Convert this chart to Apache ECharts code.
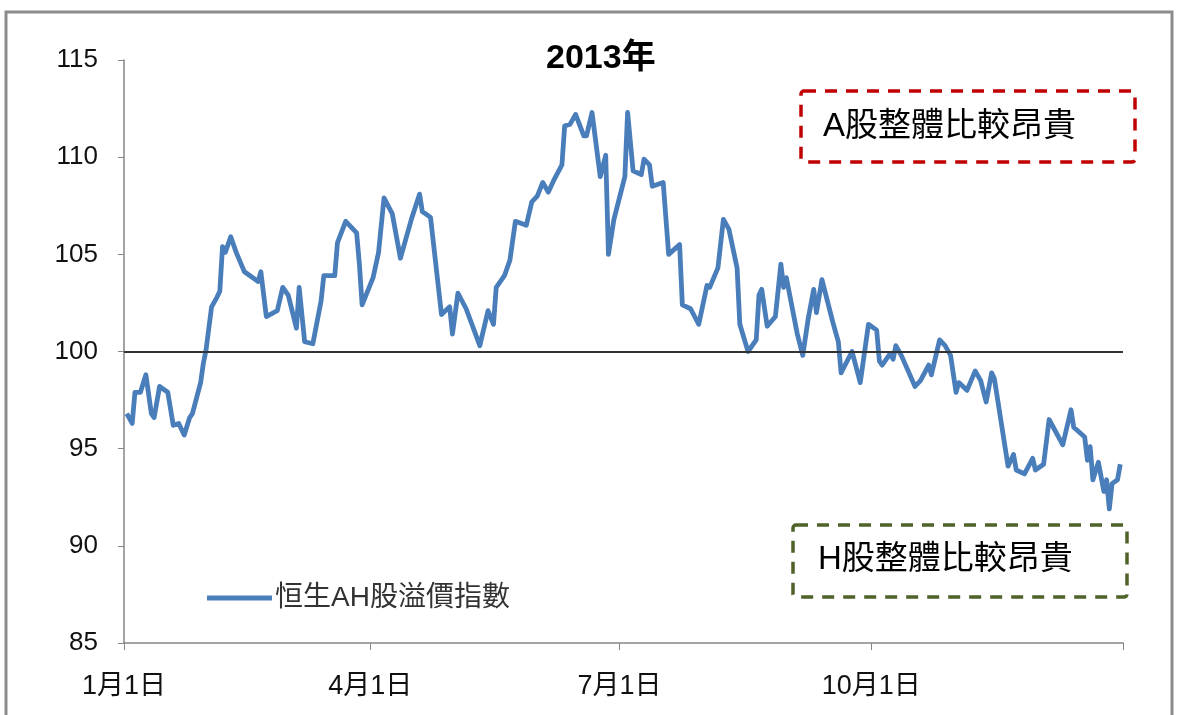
<!DOCTYPE html>
<html>
<head>
<meta charset="utf-8">
<script src="https://cdn.jsdelivr.net/npm/echarts@6/dist/echarts.min.js"></script>
<style>
  html, body { margin: 0; padding: 0; background: #fff; }
  #chart { width: 1180px; height: 715px; }
</style>
</head>
<body>
<div id="chart"></div>
<script>
// day of year 2013 (0 = 1月1日) and index level
var days = [1, 3, 4, 6, 8, 10, 11, 13, 16, 18, 20, 22, 24, 25, 28, 29, 30, 32, 34, 35,
  36, 37, 39, 41, 44, 49, 50, 52, 56, 58, 60, 63, 64, 66, 69, 72, 73, 77, 78, 81,
  85, 86, 87, 91, 93, 95, 98, 101, 105, 108, 109, 112, 116, 119, 120, 122, 125, 130, 133, 135,
  136, 139, 141, 143, 147, 149, 151, 153, 155, 157, 160, 161, 163, 165, 168, 169, 171, 172, 174, 176,
  177, 179, 183, 184, 186, 189, 190, 192, 193, 197, 199, 203, 204, 207, 210, 213, 214, 217, 219, 221,
  224, 225, 228, 231, 232, 233, 235, 238, 240, 241, 242, 246, 248, 250, 252, 253, 255, 259, 261, 262,
  266, 269, 272, 275, 276, 277, 280, 281, 282, 284, 289, 291, 294, 295, 298, 300, 302, 304, 305, 308,
  311, 313, 315, 317, 318, 323, 325, 326, 329, 332, 333, 336, 338, 343, 346, 347, 351, 352, 353, 354,
  356, 358, 359, 360, 361, 363, 364];
var ahIndex = [96.8, 96.3, 97.9, 97.9, 98.8, 96.8, 96.6, 98.2, 97.9, 96.2, 96.3, 95.7, 96.6, 96.8, 98.4, 99.4, 100.1, 102.3, 102.8, 103.1,
  105.4, 105.1, 105.9, 105.1, 104.1, 103.6, 104.1, 101.8, 102.1, 103.3, 102.9, 101.2, 103.3, 100.5, 100.4, 102.6, 103.9, 103.9, 105.6, 106.7,
  106.1, 104.5, 102.4, 103.8, 105.1, 107.9, 107.1, 104.8, 106.8, 108.1, 107.2, 106.9, 101.9, 102.3, 100.9, 103.0, 102.2, 100.3, 102.1, 101.4,
  103.3, 103.9, 104.7, 106.7, 106.5, 107.7, 108.0, 108.7, 108.2, 108.8, 109.6, 111.6, 111.7, 112.2, 111.1, 111.1, 112.3, 111.2, 109.0, 110.1,
  105.0, 106.8, 109.0, 112.3, 109.3, 109.1, 109.9, 109.6, 108.5, 108.7, 105.0, 105.5, 102.4, 102.2, 101.4, 103.4, 103.3, 104.3, 106.8, 106.3,
  104.3, 101.4, 100.0, 100.6, 102.9, 103.2, 101.3, 101.8, 104.5, 103.3, 103.8, 100.9, 99.8, 101.7, 103.2, 102.0, 103.7, 101.5, 100.5, 98.9,
  100.0, 98.4, 101.4, 101.1, 99.5, 99.3, 99.9, 99.6, 100.3, 99.8, 98.2, 98.5, 99.3, 98.8, 100.6, 100.3, 99.8, 97.9, 98.4, 98.0,
  99.0, 98.5, 97.4, 98.9, 98.6, 94.1, 94.7, 93.9, 93.7, 94.5, 93.9, 94.2, 96.5, 95.2, 97.0, 96.1, 95.6, 94.4, 95.1, 93.4,
  94.3, 92.8, 93.4, 91.9, 93.2, 93.4, 94.2];

var tickDays = [0, 90, 181, 273, 365];
var tickNames = ['1月1日', '4月1日', '7月1日', '10月1日', ''];
var baseLine = 100;
var seriesName = '恒生AH股溢價指數';
var titleText = '2013年';
var noteA = 'A股整體比較昂貴';
var noteH = 'H股整體比較昂貴';

var font = 'Liberation Sans, Noto Sans CJK TC, sans-serif';
var chart = echarts.init(document.getElementById('chart'));

var option = {
    backgroundColor: '#fff',
    animation: false,
    title: {
        text: titleText,
        left: 546,
        top: 42,
        padding: 0,
        textStyle: { fontSize: 34, fontWeight: 'bold', color: '#000', fontFamily: font }
    },
    grid: { left: 124, right: 57, top: 60, bottom: 72 },
    legend: {
        left: 202,
        top: 579,
        itemWidth: 65,
        itemHeight: 14,
        icon: 'path://M0,5 L66,5 L66,10 L0,10 Z',
        data: [seriesName],
        textStyle: { fontSize: 28, color: '#333', fontFamily: font, padding: [0, 0, 0, -2] }
    },
    xAxis: {
        type: 'value',
        min: 0,
        max: 365,
        axisLine: { lineStyle: { color: '#868686', width: 1.5 } },
        axisTick: { show: true, length: 7, customValues: tickDays, lineStyle: { color: '#868686' } },
        axisLabel: {
            customValues: tickDays.slice(0, 4),
            margin: 30,
            fontSize: 27,
            color: '#111',
            fontFamily: font,
            formatter: function (v) {
                var i = tickDays.indexOf(v);
                return i >= 0 ? tickNames[i] : '';
            }
        },
        splitLine: { show: false }
    },
    yAxis: {
        type: 'value',
        min: 85,
        max: 115,
        interval: 5,
        axisLine: { show: true, lineStyle: { color: '#868686', width: 1.5 } },
        axisTick: { show: true, length: 6, lineStyle: { color: '#868686' } },
        axisLabel: { margin: 26, fontSize: 26, color: '#111', fontFamily: font },
        splitLine: { show: false }
    },
    series: [{
        name: seriesName,
        type: 'line',
        symbol: 'none',
        color: '#4a7ebb',
        lineStyle: { width: 4.8, color: '#4a7ebb', join: 'round' },
        data: days.map(function (d, i) { return [d, ahIndex[i]]; }),
        markLine: {
            silent: true,
            symbol: 'none',
            label: { show: false },
            lineStyle: { color: '#333', width: 2, type: 'solid' },
            data: [{ yAxis: baseLine }]
        },
        z: 3
    }],
    graphic: [
        {
            type: 'rect',
            shape: { x: 6, y: 12, width: 1166, height: 720 },
            style: { fill: 'none', stroke: '#8c8c8c', lineWidth: 3 },
            silent: true
        },
        {
            type: 'rect',
            shape: { x: 801, y: 91, width: 334, height: 71, r: 3 },
            style: { fill: 'none', stroke: '#c00000', lineWidth: 3.5, lineDash: [12, 9] }
        },
        {
            type: 'text',
            left: 823,
            top: 110,
            style: { text: noteA, fontSize: 33, fill: '#000', fontFamily: font }
        },
        {
            type: 'rect',
            shape: { x: 793, y: 525, width: 334, height: 72, r: 3 },
            style: { fill: 'none', stroke: '#4f6228', lineWidth: 3.5, lineDash: [12, 9] }
        },
        {
            type: 'text',
            left: 818,
            top: 543,
            style: { text: noteH, fontSize: 33, fill: '#000', fontFamily: font }
        }
    ]
};
chart.setOption(option);
</script>
</body>
</html>
